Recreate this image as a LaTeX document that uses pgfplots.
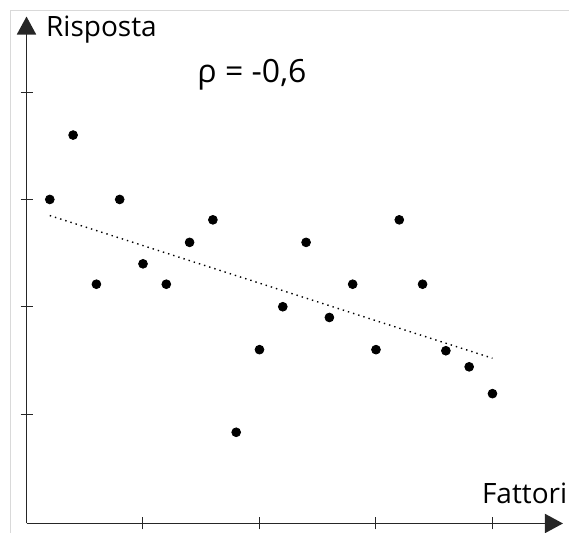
\documentclass[border=0pt]{standalone}
\usepackage{pgfplots}
\pgfplotsset{compat=1.18}
\usepackage{fontspec}
\setmainfont{Open Sans}
\usetikzlibrary{arrows.meta}

\pgfplotstableread{
x    y
0.2  3.00
0.4  3.60
0.6  2.21
0.8  3.00
1.0  2.40
1.2  2.21
1.4  2.60
1.6  2.81
1.8  0.83
2.0  1.60
2.2  2.00
2.4  2.60
2.6  1.90
2.8  2.21
3.0  1.60
3.2  2.81
3.4  2.21
3.6  1.59
3.8  1.44
4.0  1.19
}\punti

\begin{document}
\begin{tikzpicture}
\begin{axis}[
    x=58.25pt, y=53.65pt,
    xmin=0, xmax=4.605,
    ymin=-0.02, ymax=4.705,
    enlargelimits=false,
    axis lines=left,
    axis line style={black!85, line width=0.9pt, -{Triangle[length=9pt,width=9.5pt]}},
    xtick={1,2,3,4}, ytick={1,2,3,4},
    xticklabels={}, yticklabels={},
    tick align=center,
    major tick length=6pt,
    tick style={black!85, line width=0.5pt},
    clip=false,
]
% canvas corners and the light frame of the original image
\coordinate (bl) at (axis cs:-0.2275,-0.1085);
\coordinate (tr) at (axis cs:4.657,4.859);
\draw[black!15, line width=0.5pt] (axis cs:-0.1416,-0.1085) -- (axis cs:-0.1416,4.761) -- (axis cs:4.657,4.761);

\addplot[only marks, mark=*, mark size=2.2pt, black] table[x=x, y=y] {\punti};
\addplot[black, dotted, line width=0.7pt] coordinates {(0.2,2.85) (4.0,1.52)};

\node[anchor=base west, inner sep=0pt, font=\fontsize{14}{16}\selectfont] at (axis cs:0.165,4.523) {Risposta};
\node[anchor=base west, inner sep=0pt, font=\fontsize{14}{16}\selectfont] at (axis cs:3.907,0.162) {Fattori};
\node[anchor=base west, inner sep=0pt, font=\fontsize{16}{19}\selectfont] at (axis cs:1.464,4.088) {ρ = -0,6};
\end{axis}
\pgfresetboundingbox
\path[use as bounding box] (bl) rectangle (tr);
\end{tikzpicture}
\end{document}
